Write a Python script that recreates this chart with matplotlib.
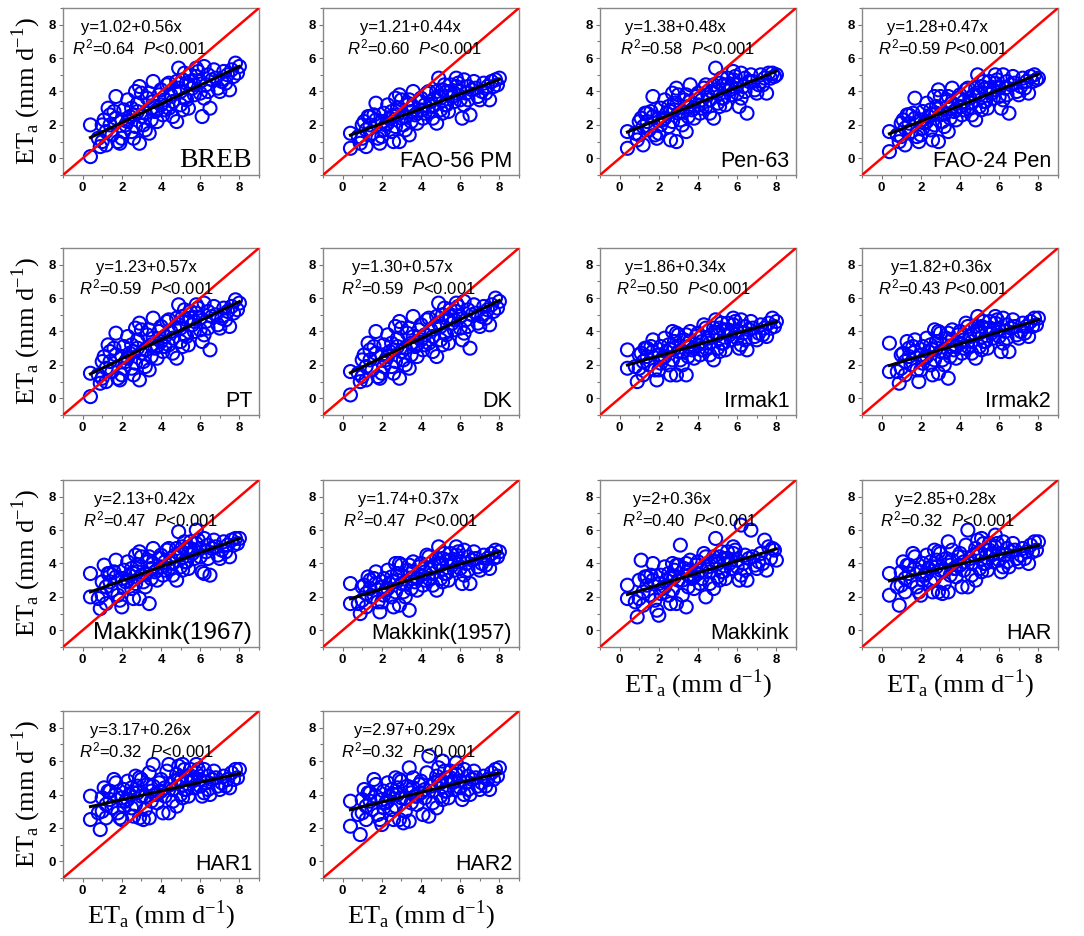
import matplotlib
matplotlib.use('Agg')
import matplotlib.pyplot as plt
import numpy as np

plt.rcParams['font.family'] = ['Liberation Sans', 'DejaVu Sans']
plt.rcParams['mathtext.fontset'] = 'custom'
plt.rcParams['mathtext.rm'] = 'Liberation Sans'
plt.rcParams['mathtext.it'] = 'Liberation Sans:italic'
plt.rcParams['mathtext.sf'] = 'Liberation Serif'

# ---------------- data ----------------
models = ['BREB', 'FAO-56 PM', 'Pen-63', 'FAO-24 Pen',
          'PT', 'DK', 'Irmak1', 'Irmak2',
          'Makkink(1967)', 'Makkink(1957)', 'Makkink', 'HAR',
          'HAR1', 'HAR2']

intercepts = [1.02, 1.21, 1.38, 1.28, 1.23, 1.30, 1.86, 1.82, 2.13, 1.74, 2.0, 2.85, 3.17, 2.97]
slopes = [0.56, 0.44, 0.48, 0.47, 0.57, 0.57, 0.34, 0.36, 0.42, 0.37, 0.36, 0.28, 0.26, 0.29]
eq_labels = ['y=1.02+0.56x', 'y=1.21+0.44x', 'y=1.38+0.48x', 'y=1.28+0.47x',
             'y=1.23+0.57x', 'y=1.30+0.57x', 'y=1.86+0.34x', 'y=1.82+0.36x',
             'y=2.13+0.42x', 'y=1.74+0.37x', 'y=2+0.36x', 'y=2.85+0.28x',
             'y=3.17+0.26x', 'y=2.97+0.29x']
r2_labels = ['0.64', '0.60', '0.58', '0.59', '0.59', '0.59', '0.50', '0.43',
             '0.47', '0.47', '0.40', '0.32', '0.32', '0.32']
gap_labels = ['  ', '  ', '  ', ' ', '  ', '  ', '  ', ' ',
              '  ', '  ', '  ', '  ', '  ', '  ']

x_obs = [0.4, 0.4, 0.8, 0.9, 1.0, 1.0, 1.1, 1.2, 1.2, 1.3,
         1.4, 1.4, 1.5, 1.6, 1.7, 1.7, 1.8, 1.9, 2.0, 2.0,
         2.1, 2.1, 2.2, 2.3, 2.3, 2.4, 2.5, 2.5, 2.6, 2.6,
         2.7, 2.7, 2.8, 2.8, 2.9, 2.9, 3.0, 3.0, 3.1, 3.2,
         3.2, 3.3, 3.4, 3.4, 3.5, 3.5, 3.6, 3.6, 3.7, 3.8,
         3.8, 3.9, 4.0, 4.0, 4.1, 4.2, 4.2, 4.3, 4.4, 4.4,
         4.5, 4.6, 4.6, 4.7, 4.8, 4.8, 4.9, 4.9, 5.0, 5.0,
         5.1, 5.1, 5.2, 5.2, 5.3, 5.3, 5.4, 5.5, 5.5, 5.6,
         5.7, 5.7, 5.8, 5.8, 5.9, 6.0, 6.0, 6.1, 6.2, 6.2,
         6.3, 6.4, 6.4, 6.5, 6.6, 6.7, 6.8, 6.9, 7.0, 7.1,
         7.2, 7.3, 7.4, 7.5, 7.6, 7.7, 7.8, 7.9, 8.0]

y_breb = [0.1, 2.0, 1.2, 0.7, 2.0, 1.0, 2.3, 0.8, 1.6, 3.0,
          2.6, 2.0, 1.4, 2.8, 3.7, 2.4, 1.0, 0.9, 2.3, 1.2,
          1.6, 2.9, 2.0, 3.5, 2.2, 2.5, 3.0, 1.6, 1.2, 2.6,
          1.9, 4.0, 3.3, 2.8, 0.9, 4.3, 2.5, 3.9, 2.0, 1.7,
          2.7, 3.6, 1.5, 3.9, 3.0, 2.3, 4.6, 3.4, 2.8, 2.2,
          2.9, 3.8, 4.1, 3.2, 2.6, 3.5, 2.9, 4.4, 3.0, 4.5,
          3.8, 2.5, 3.4, 4.0, 2.2, 4.6, 5.4, 4.2, 3.2, 4.0,
          4.7, 2.9, 3.6, 5.1, 4.5, 3.5, 3.0, 5.0, 4.6, 4.2,
          3.8, 4.4, 4.9, 5.4, 5.2, 3.9, 4.6, 2.5, 5.5, 3.6,
          4.4, 5.0, 4.0, 3.0, 4.7, 5.3, 4.8, 4.2, 4.0, 4.6,
          5.2, 4.5, 5.0, 4.1, 5.3, 4.9, 5.7, 5.1, 5.5]

y_fao56 = [0.6, 1.5, 1.3, 0.9, 2.0, 1.2, 2.2, 0.7, 1.7, 2.5,
           2.5, 2.0, 1.5, 2.6, 3.3, 2.3, 1.2, 0.9, 2.2, 1.3,
           1.7, 2.7, 2.0, 3.2, 2.1, 2.4, 2.8, 1.6, 1.0, 2.5,
           1.9, 3.6, 3.0, 2.6, 1.0, 3.8, 2.4, 3.5, 2.0, 1.7,
           2.5, 3.2, 1.4, 3.5, 2.8, 2.2, 4.0, 3.1, 2.6, 2.1,
           2.7, 3.4, 3.6, 2.9, 2.4, 3.2, 2.7, 3.9, 2.8, 4.0,
           3.4, 2.4, 3.1, 3.6, 2.1, 4.0, 4.8, 3.7, 2.9, 3.6,
           4.1, 2.7, 3.2, 4.4, 4.0, 3.2, 2.8, 4.4, 4.0, 3.7,
           3.4, 3.9, 4.3, 4.8, 4.5, 3.5, 4.0, 2.4, 4.7, 3.2,
           3.9, 4.3, 3.5, 2.6, 4.1, 4.6, 4.2, 3.7, 3.5, 4.0,
           4.5, 3.9, 4.3, 3.5, 4.6, 4.3, 4.7, 4.4, 4.8]

y_pen63 = [0.6, 1.6, 1.5, 1.1, 2.2, 1.4, 2.4, 0.8, 1.9, 2.7,
           2.7, 2.2, 1.7, 2.8, 3.7, 2.5, 1.4, 1.2, 2.4, 1.5,
           2.0, 3.0, 2.3, 3.5, 2.4, 2.7, 3.1, 1.9, 1.1, 2.8,
           2.2, 3.9, 3.3, 2.9, 1.0, 4.2, 2.7, 3.8, 2.3, 2.0,
           2.8, 3.5, 1.6, 3.8, 3.1, 2.5, 4.4, 3.4, 2.9, 2.4,
           3.0, 3.7, 3.9, 3.2, 2.7, 3.5, 3.0, 4.2, 3.1, 4.4,
           3.8, 2.7, 3.5, 4.0, 2.4, 4.4, 5.4, 4.1, 3.3, 4.0,
           4.5, 3.1, 3.6, 4.8, 4.4, 3.6, 3.2, 4.8, 4.4, 4.1,
           3.8, 4.3, 4.7, 5.2, 4.9, 3.9, 4.4, 3.1, 5.1, 3.6,
           4.3, 4.8, 4.0, 2.7, 4.6, 5.0, 4.6, 4.1, 3.9, 4.4,
           5.0, 4.4, 4.8, 3.9, 5.1, 4.8, 5.1, 4.9, 5.0]

y_fao24 = [0.4, 1.6, 1.4, 1.0, 2.1, 1.3, 2.3, 0.8, 1.8, 2.6,
           2.6, 2.1, 1.6, 2.7, 3.6, 2.4, 1.3, 1.0, 2.3, 1.4,
           1.8, 2.8, 2.1, 3.3, 2.2, 2.5, 2.9, 1.7, 1.1, 2.6,
           2.0, 3.7, 3.1, 2.7, 1.0, 4.1, 2.6, 3.7, 2.2, 1.9,
           2.7, 3.4, 1.6, 3.7, 3.0, 2.4, 4.2, 3.3, 2.8, 2.3,
           2.9, 3.6, 3.8, 3.1, 2.6, 3.4, 2.9, 4.1, 3.0, 4.2,
           3.6, 2.6, 3.3, 3.8, 2.3, 4.2, 5.0, 3.9, 3.1, 3.8,
           4.3, 2.9, 3.4, 4.6, 4.2, 3.4, 3.0, 4.6, 4.2, 3.9,
           3.6, 4.1, 4.5, 5.0, 4.7, 3.7, 4.2, 3.0, 5.0, 3.5,
           4.2, 4.6, 3.8, 2.7, 4.4, 4.9, 4.5, 4.0, 3.8, 4.3,
           4.8, 4.2, 4.6, 3.9, 4.9, 4.6, 5.0, 4.7, 4.8]

y_pt = [0.1, 1.5, 1.4, 0.9, 2.2, 1.2, 2.5, 1.0, 1.8, 3.2,
        2.8, 2.2, 1.6, 3.0, 3.9, 2.6, 1.2, 1.1, 2.5, 1.4,
        1.8, 3.1, 2.2, 3.7, 2.4, 2.7, 3.2, 1.8, 1.4, 2.8,
        2.1, 4.2, 3.5, 3.0, 1.1, 4.5, 2.7, 4.1, 2.2, 1.9,
        2.9, 3.8, 1.7, 4.1, 3.2, 2.5, 4.8, 3.6, 3.0, 2.4,
        3.1, 4.0, 4.3, 3.4, 2.8, 3.7, 3.1, 4.6, 3.2, 4.7,
        4.0, 2.7, 3.6, 4.2, 2.4, 4.8, 5.6, 4.4, 3.4, 4.2,
        4.9, 3.1, 3.8, 5.3, 4.7, 3.7, 3.2, 5.2, 4.8, 4.4,
        4.0, 4.6, 5.1, 5.6, 5.4, 4.1, 4.8, 3.4, 5.7, 3.8,
        4.6, 5.2, 4.2, 2.9, 4.9, 5.5, 5.0, 4.4, 4.2, 4.8,
        5.4, 4.7, 5.2, 4.3, 5.5, 5.1, 5.9, 5.3, 5.7]

y_dk = [0.2, 1.6, 1.5, 1.0, 2.3, 1.3, 2.6, 1.1, 1.9, 3.3,
        2.9, 2.3, 1.7, 3.1, 4.0, 2.7, 1.3, 1.2, 2.6, 1.5,
        1.9, 3.2, 2.3, 3.8, 2.5, 2.8, 3.3, 1.9, 1.5, 2.9,
        2.2, 4.3, 3.6, 3.1, 1.2, 4.6, 2.8, 4.2, 2.3, 2.0,
        3.0, 3.9, 1.8, 4.2, 3.3, 2.6, 4.9, 3.7, 3.1, 2.5,
        3.2, 4.1, 4.4, 3.5, 2.9, 3.8, 3.2, 4.7, 3.3, 4.8,
        4.1, 2.8, 3.7, 4.3, 2.5, 4.9, 5.7, 4.5, 3.5, 4.3,
        5.0, 3.2, 3.9, 5.4, 4.8, 3.8, 3.3, 5.3, 4.9, 4.5,
        4.1, 4.7, 5.2, 5.7, 5.5, 4.2, 4.9, 3.5, 5.8, 3.9,
        4.7, 5.3, 4.3, 3.0, 5.0, 5.6, 5.1, 4.5, 4.3, 4.9,
        5.5, 4.8, 5.3, 4.4, 5.6, 5.2, 6.0, 5.4, 5.8]

y_irmak1 = [1.8, 2.9, 1.9, 1.0, 2.6, 1.8, 2.7, 1.4, 2.2, 3.0,
            3.0, 2.5, 2.0, 3.1, 3.5, 2.8, 1.7, 1.1, 2.6, 1.7,
            2.1, 3.1, 2.4, 3.6, 2.5, 2.8, 3.2, 2.0, 1.4, 2.9,
            2.3, 4.0, 3.4, 3.0, 1.4, 3.9, 2.8, 3.8, 2.3, 2.0,
            2.8, 3.5, 1.4, 3.8, 3.1, 2.5, 4.0, 3.4, 2.9, 2.4,
            3.0, 3.7, 3.9, 3.2, 2.6, 3.4, 2.9, 4.4, 3.0, 4.2,
            3.6, 2.6, 3.3, 3.8, 2.3, 4.2, 4.7, 3.9, 3.0, 3.8,
            4.2, 2.8, 3.3, 4.5, 4.1, 3.3, 2.9, 4.5, 4.1, 3.8,
            3.5, 4.0, 4.4, 4.8, 4.6, 3.6, 4.0, 3.0, 4.7, 3.2,
            3.9, 4.3, 3.5, 2.9, 4.1, 4.6, 4.2, 3.7, 3.5, 3.9,
            4.4, 3.8, 4.2, 3.7, 4.5, 4.2, 4.8, 4.3, 4.6]

y_irmak2 = [1.6, 3.3, 1.6, 0.9, 2.6, 1.8, 2.7, 1.4, 2.2, 3.4,
            3.0, 2.5, 2.0, 3.1, 3.5, 2.8, 1.7, 1.0, 2.6, 1.7,
            2.1, 3.1, 2.4, 3.6, 2.5, 2.8, 3.2, 2.0, 1.4, 2.9,
            2.3, 4.1, 3.4, 3.0, 1.5, 4.0, 2.8, 3.9, 2.3, 2.0,
            2.8, 3.6, 1.2, 3.9, 3.1, 2.5, 4.1, 3.5, 2.9, 2.4,
            3.1, 3.8, 4.0, 3.3, 2.7, 3.5, 3.0, 4.5, 3.1, 4.3,
            3.7, 2.7, 3.4, 3.9, 2.4, 4.3, 4.9, 4.0, 3.1, 3.9,
            4.3, 2.9, 3.4, 4.6, 4.2, 3.4, 3.0, 4.6, 4.2, 3.9,
            3.6, 4.1, 4.5, 4.9, 4.7, 3.7, 4.1, 2.8, 4.8, 3.3,
            4.0, 4.4, 3.6, 2.8, 4.2, 4.7, 4.3, 3.8, 3.6, 4.0,
            4.5, 3.9, 4.3, 3.7, 4.6, 4.3, 4.8, 4.4, 4.8]

y_makk67 = [2.0, 3.4, 1.9, 1.3, 2.9, 2.1, 3.9, 1.6, 2.6, 3.4,
            3.4, 2.9, 2.4, 3.5, 4.2, 3.2, 2.1, 1.8, 3.1, 1.4,
            2.6, 3.6, 2.9, 4.1, 3.0, 3.3, 3.7, 2.5, 1.9, 3.4,
            2.8, 4.5, 3.9, 3.5, 1.9, 4.7, 3.3, 4.4, 2.9, 2.6,
            3.4, 4.1, 1.6, 4.4, 3.7, 3.1, 4.9, 4.0, 3.5, 3.0,
            3.6, 4.3, 4.5, 3.8, 3.3, 4.1, 3.6, 4.8, 3.7, 4.9,
            4.3, 3.3, 4.0, 4.5, 3.0, 4.9, 5.9, 4.6, 3.8, 4.5,
            5.0, 3.6, 4.1, 5.3, 4.9, 4.1, 3.7, 5.3, 4.9, 4.6,
            4.3, 4.8, 5.2, 6.0, 5.4, 4.4, 4.9, 3.5, 5.5, 3.4,
            4.7, 5.1, 4.3, 3.3, 4.9, 5.4, 5.0, 4.5, 4.3, 4.8,
            5.3, 4.7, 5.1, 4.4, 5.4, 5.1, 5.5, 5.2, 5.5]

y_makk57 = [1.6, 2.8, 1.6, 1.0, 2.6, 1.8, 2.7, 1.4, 2.2, 3.2,
            3.0, 2.5, 2.0, 3.1, 3.5, 2.8, 1.7, 1.1, 2.6, 1.7,
            2.1, 3.1, 2.4, 3.6, 2.5, 2.8, 3.2, 2.0, 1.4, 2.9,
            2.3, 4.0, 3.4, 3.0, 1.5, 4.0, 2.8, 3.9, 2.3, 2.0,
            2.8, 3.6, 1.2, 3.9, 3.1, 2.5, 4.1, 3.5, 2.9, 2.4,
            3.1, 3.8, 4.0, 3.3, 2.7, 3.5, 3.0, 4.5, 3.1, 4.4,
            3.7, 2.7, 3.4, 3.9, 2.4, 4.3, 5.0, 4.0, 3.1, 3.9,
            4.3, 2.9, 3.4, 4.6, 4.2, 3.4, 3.0, 4.6, 4.2, 3.9,
            3.6, 4.1, 4.5, 5.0, 4.7, 3.7, 4.1, 2.8, 4.8, 3.3,
            4.0, 4.4, 3.6, 2.8, 4.2, 4.7, 4.3, 3.8, 3.6, 4.0,
            4.5, 3.9, 4.3, 3.7, 4.6, 4.3, 4.8, 4.4, 4.7]

y_makkink = [1.9, 2.7, 1.7, 0.8, 3.0, 1.9, 4.2, 1.5, 2.3, 3.2,
             3.2, 2.7, 2.1, 3.3, 4.0, 3.0, 1.8, 1.2, 2.8, 0.9,
             2.2, 3.3, 2.5, 3.8, 2.6, 3.0, 3.4, 2.1, 1.6, 3.1,
             2.4, 4.0, 3.6, 3.2, 1.6, 3.9, 3.0, 3.9, 5.1, 2.1,
             3.0, 3.7, 1.4, 4.0, 3.3, 2.6, 4.2, 3.6, 3.1, 2.5,
             3.2, 3.9, 4.1, 3.4, 2.8, 3.6, 3.1, 4.6, 2.0, 4.4,
             3.8, 2.8, 3.5, 4.0, 2.5, 4.4, 5.5, 4.1, 3.2, 4.0,
             4.4, 3.0, 3.5, 4.7, 4.3, 3.5, 3.1, 4.7, 4.3, 4.0,
             3.7, 4.2, 4.6, 5.0, 4.8, 3.8, 4.2, 3.0, 6.3, 3.3,
             4.0, 4.5, 3.6, 3.0, 4.3, 6.0, 4.4, 3.9, 3.7, 4.1,
             4.6, 4.0, 5.4, 3.6, 5.0, 4.3, 4.9, 4.8, 4.2]

y_har = [2.1, 3.4, 2.6, 1.5, 3.5, 2.7, 4.1, 2.3, 3.1, 3.9,
         3.9, 3.4, 2.9, 4.6, 4.4, 3.7, 2.6, 2.3, 3.5, 2.1,
         3.0, 4.0, 3.3, 4.5, 3.4, 3.7, 4.1, 2.9, 2.3, 3.8,
         3.1, 4.8, 4.2, 3.8, 2.3, 4.7, 3.6, 4.6, 2.2, 2.8,
         3.6, 4.3, 2.3, 5.3, 3.9, 3.3, 4.8, 4.2, 3.7, 3.2,
         3.7, 4.4, 4.6, 3.9, 2.6, 4.1, 3.6, 5.1, 2.6, 6.0,
         4.3, 3.3, 4.0, 4.5, 3.0, 4.9, 5.4, 4.6, 3.7, 4.5,
         5.5, 3.5, 4.0, 5.2, 4.8, 4.0, 3.6, 5.2, 4.8, 4.5,
         4.1, 4.6, 5.0, 5.7, 5.2, 4.2, 4.6, 3.5, 5.3, 3.8,
         4.5, 4.9, 4.1, 3.8, 4.7, 5.2, 4.8, 4.3, 4.1, 4.5,
         4.9, 4.3, 4.7, 4.0, 5.1, 4.7, 5.3, 4.8, 5.3]

y_har1 = [2.5, 3.9, 2.9, 1.9, 3.8, 3.0, 4.4, 2.6, 3.4, 4.2,
          4.2, 3.7, 3.2, 4.9, 4.7, 4.0, 2.9, 2.6, 3.8, 2.5,
          3.3, 4.3, 3.6, 4.8, 3.7, 4.0, 4.4, 3.2, 2.7, 4.1,
          3.4, 5.1, 4.5, 4.1, 2.6, 5.0, 3.9, 4.9, 2.5, 3.1,
          3.9, 4.6, 2.6, 5.3, 4.2, 3.6, 5.8, 4.5, 4.0, 3.5,
          4.0, 4.7, 4.9, 4.2, 2.9, 4.4, 3.9, 5.4, 2.9, 5.8,
          4.6, 3.6, 4.3, 4.8, 3.3, 5.2, 5.7, 4.9, 4.0, 4.8,
          5.8, 3.8, 4.3, 5.5, 5.1, 4.3, 3.9, 5.5, 5.1, 4.8,
          4.4, 4.9, 5.3, 5.8, 5.5, 4.5, 4.9, 3.9, 5.5, 4.1,
          4.7, 5.1, 4.3, 4.0, 4.9, 5.4, 5.0, 4.5, 4.3, 4.7,
          5.1, 4.5, 4.9, 4.4, 5.3, 4.9, 5.5, 5.0, 5.5]

y_har2 = [2.1, 3.6, 2.8, 1.6, 3.7, 2.9, 4.3, 2.5, 3.3, 4.1,
          4.1, 3.6, 3.1, 4.9, 4.6, 3.9, 2.8, 2.5, 3.7, 2.2,
          3.2, 4.2, 3.5, 4.7, 3.6, 3.9, 4.3, 3.1, 2.5, 4.0,
          3.3, 5.0, 4.4, 4.0, 2.5, 4.9, 3.8, 4.8, 2.3, 3.0,
          3.8, 4.5, 2.4, 5.6, 4.1, 3.5, 5.0, 4.4, 3.9, 3.4,
          3.9, 4.6, 4.8, 4.1, 2.8, 4.3, 3.8, 5.3, 2.7, 6.3,
          4.5, 3.5, 4.2, 4.7, 3.2, 5.1, 5.6, 4.8, 3.9, 4.7,
          6.0, 3.7, 4.2, 5.4, 5.0, 4.2, 3.8, 5.4, 5.0, 4.7,
          4.3, 4.8, 5.2, 5.9, 5.4, 4.4, 4.8, 3.7, 5.5, 4.0,
          4.7, 5.1, 4.3, 4.0, 4.9, 5.4, 5.0, 4.5, 4.3, 4.7,
          5.1, 4.5, 4.9, 4.3, 5.3, 4.9, 5.5, 5.1, 5.6]

y_series = [y_breb, y_fao56, y_pen63, y_fao24, y_pt, y_dk, y_irmak1, y_irmak2,
            y_makk67, y_makk57, y_makkink, y_har, y_har1, y_har2]

tick_values = [0, 2, 4, 6, 8]
tick_labels = ['0', '2', '4', '6', '8']

# ---------------- layout (pixels) ----------------
FW, FH = 1084, 936
col_left = [63, 323, 600, 862]
row_top = [8, 248, 480, 711]
AW, AH = 196, 167
eq_x = [0.09, 0.19, 0.13, 0.13, 0.17, 0.15, 0.13, 0.15, 0.16, 0.18, 0.17, 0.17, 0.14, 0.16]
r2_x = [0.045, 0.12, 0.10, 0.08, 0.08, 0.09, 0.08, 0.08, 0.10, 0.10, 0.11, 0.09, 0.08, 0.09]
name_size = [20, 15.5, 15.5, 15.5, 15.5, 15.5, 15.5, 15.5, 17.5, 15.5, 15.5, 15.5, 15.5, 15.5]
xlabel_panels = [10, 11, 12, 13]

fig = plt.figure(figsize=(FW / 100, FH / 100), dpi=100)
fig.patch.set_facecolor('white')

axis_label = r'ET$_{\mathsf{a}}$ (mm d$^{\mathsf{-1}}$)'
x_arr = np.array(x_obs)
serif = ['Liberation Serif', 'DejaVu Serif']

for i, name in enumerate(models):
    r, c = divmod(i, 4)
    L = col_left[c]
    T = row_top[r]
    ax = fig.add_axes([L / FW, 1 - (T + AH) / FH, AW / FW, AH / FH])
    ax.scatter(x_arr, y_series[i], s=88, facecolors='none', edgecolors='#0000ff',
               linewidths=1.5, zorder=2)
    ax.axline((0, 0), slope=1, color='#ff0000', lw=1.8, zorder=3)
    xs = np.array([x_arr.min(), x_arr.max()])
    ax.plot(xs, intercepts[i] + slopes[i] * xs, color='black', lw=2.2, zorder=4)
    ax.set_xlim(-1, 9)
    ax.set_ylim(-1, 9)
    ax.set_xticks(tick_values)
    ax.set_xticklabels(tick_labels)
    ax.set_yticks(tick_values)
    ax.set_yticklabels(tick_labels)
    ax.set_xticks([-1, 1, 3, 5, 7, 9], minor=True)
    ax.set_yticks([-1, 1, 3, 5, 7, 9], minor=True)
    ax.tick_params(which='major', direction='out', length=3, width=0.8,
                   color='#777777', labelsize=9.5, pad=2)
    ax.tick_params(which='minor', direction='out', length=2, width=0.8,
                   color='#777777')
    for lab in ax.get_xticklabels() + ax.get_yticklabels():
        lab.set_fontweight('bold')
    for sp in ax.spines.values():
        sp.set_color('#888888')
        sp.set_linewidth(1.0)

    ax.text(eq_x[i], 0.885, eq_labels[i], transform=ax.transAxes,
            fontsize=12, va='center', ha='left', zorder=5)
    ax.text(r2_x[i], 0.765, r'$R^2$=' + r2_labels[i] + gap_labels[i] + r'$P$<0.001',
            transform=ax.transAxes, fontsize=12, va='center', ha='left', zorder=5)

    if name == 'BREB':
        ax.text(0.965, 0.05, name, transform=ax.transAxes, fontsize=name_size[i],
                family=serif, ha='right', va='baseline', zorder=5)
    else:
        ax.text(0.965, 0.05, name, transform=ax.transAxes, fontsize=name_size[i],
                ha='right', va='baseline', zorder=5)

    if c == 0:
        fig.text(27 / FW, 1 - (T + AH / 2) / FH, axis_label, rotation=90,
                 ha='center', va='center', fontsize=19, family=serif)
    if i in xlabel_panels:
        fig.text((L + AW / 2) / FW, 1 - (T + AH + 38) / FH, axis_label,
                 ha='center', va='center', fontsize=19, family=serif)

fig.savefig('out.png', dpi=100, facecolor='white')
